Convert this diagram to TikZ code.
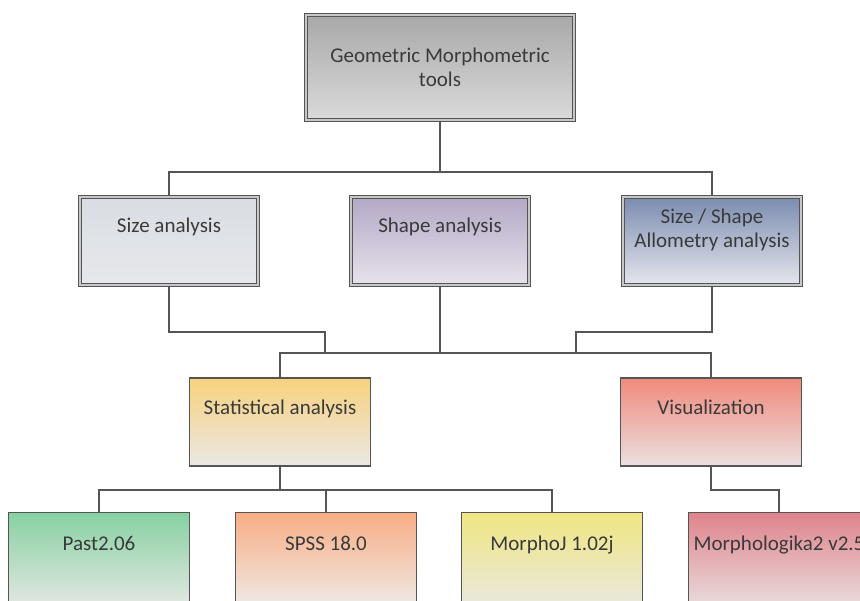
\documentclass[tikz,border=0pt]{standalone}
\usepackage{fontspec}
\setmainfont{Carlito}
\usetikzlibrary{positioning}

\definecolor{linegray}{HTML}{555555}
\definecolor{textgray}{HTML}{3A3A3A}
\definecolor{geotop}{HTML}{A8A8A8}
\definecolor{geobot}{HTML}{DADADA}
\definecolor{sizetop}{HTML}{D9DDE3}
\definecolor{sizebot}{HTML}{E6E8EB}
\definecolor{shapetop}{HTML}{B3A8C6}
\definecolor{shapebot}{HTML}{E7E3EB}
\definecolor{allotop}{HTML}{7C8CB0}
\definecolor{allobot}{HTML}{E4E6EC}
\definecolor{stattop}{HTML}{F7D27E}
\definecolor{statbot}{HTML}{ECE8E4}
\definecolor{vistop}{HTML}{F08A7C}
\definecolor{visbot}{HTML}{EAE0E0}
\definecolor{pasttop}{HTML}{86D1A2}
\definecolor{pastbot}{HTML}{E0E6E0}
\definecolor{spsstop}{HTML}{F8AD84}
\definecolor{spssbot}{HTML}{EFE7E2}
\definecolor{mjtop}{HTML}{EFE680}
\definecolor{mjbot}{HTML}{EAE8DA}
\definecolor{mgtop}{HTML}{E0838C}
\definecolor{mgbot}{HTML}{E8D8D8}

\tikzset{
  box/.style={draw=linegray, line width=1.3pt, text=textgray, align=center,
    inner xsep=4pt, inner ysep=0pt, minimum width=181pt,
    font=\fontsize{21}{24}\selectfont, text height=37pt, text depth=51pt},
  dbox/.style={box, line width=1.2pt, double=black!22, double distance=1.6pt,
    minimum width=178pt, text height=36pt, text depth=52pt},
  shade/.style 2 args={top color=#1, bottom color=#2},
  link/.style={draw=linegray, line width=1.3pt}
}

\begin{document}
\begin{tikzpicture}[x=1pt,y=1pt,on grid]
\useasboundingbox (0,0) rectangle (860,-601);

\node[dbox, shade={geotop}{geobot}, minimum width=268pt, text height=72pt, text depth=33pt]
  (geo) at (440,-67.5) {Geometric Morphometric\\tools};
\node[dbox, shade={shapetop}{shapebot}] (shape) [below=173.5pt of geo] {Shape analysis};
\node[dbox, shade={sizetop}{sizebot}] (size) [left=271pt of shape] {Size analysis};
\node[dbox, shade={allotop}{allobot}, text height=51pt, text depth=37pt]
  (allo) [right=272pt of shape] {Size / Shape\\Allometry analysis};

\node[box, shade={stattop}{statbot}] (stat) [below left=181pt and 160pt of shape] {Statistical analysis};
\node[box, shade={vistop}{visbot}] (vis) [right=431pt of stat] {Visualization};

\node[box, shade={pasttop}{pastbot}, text height=38pt] (past) [below left=135pt and 181pt of stat] {Past2.06};
\node[box, shade={spsstop}{spssbot}, text height=38pt] (spss) [right=227pt of past] {SPSS 18.0};
\node[box, shade={mjtop}{mjbot}, text height=38pt] (mj) [right=226pt of spss] {MorphoJ 1.02j};
\node[box, shade={mgtop}{mgbot}, text height=38pt] (mg) [right=227pt of mj] {Morphologika2 v2.5};

\coordinate (bus1) at (0,-172);
\coordinate (sizejoin) at (325,-332);
\coordinate (allojoin) at (576,-332);
\coordinate (bus2) at (0,-353);
\coordinate (bus3) at (0,-490);

\draw[link] (geo.south) -- (geo.south |- bus1);
\draw[link] (size.north) |- (allo.north |- bus1) -- (allo.north);
\draw[link] (size.south) |- (sizejoin) -- (sizejoin |- bus2);
\draw[link] (allo.south) |- (allojoin) -- (allojoin |- bus2);
\draw[link] (shape.south) -- (shape.south |- bus2);
\draw[link] (stat.north) |- (vis.north |- bus2) -- (vis.north);
\draw[link] (stat.south) -- (stat.south |- bus3);
\draw[link] (past.north) |- (mj.north |- bus3) -- (mj.north);
\draw[link] (spss.north) -- (spss.north |- bus3);
\draw[link] (vis.south) |- (mg.north |- bus3) -- (mg.north);
\end{tikzpicture}
\end{document}
